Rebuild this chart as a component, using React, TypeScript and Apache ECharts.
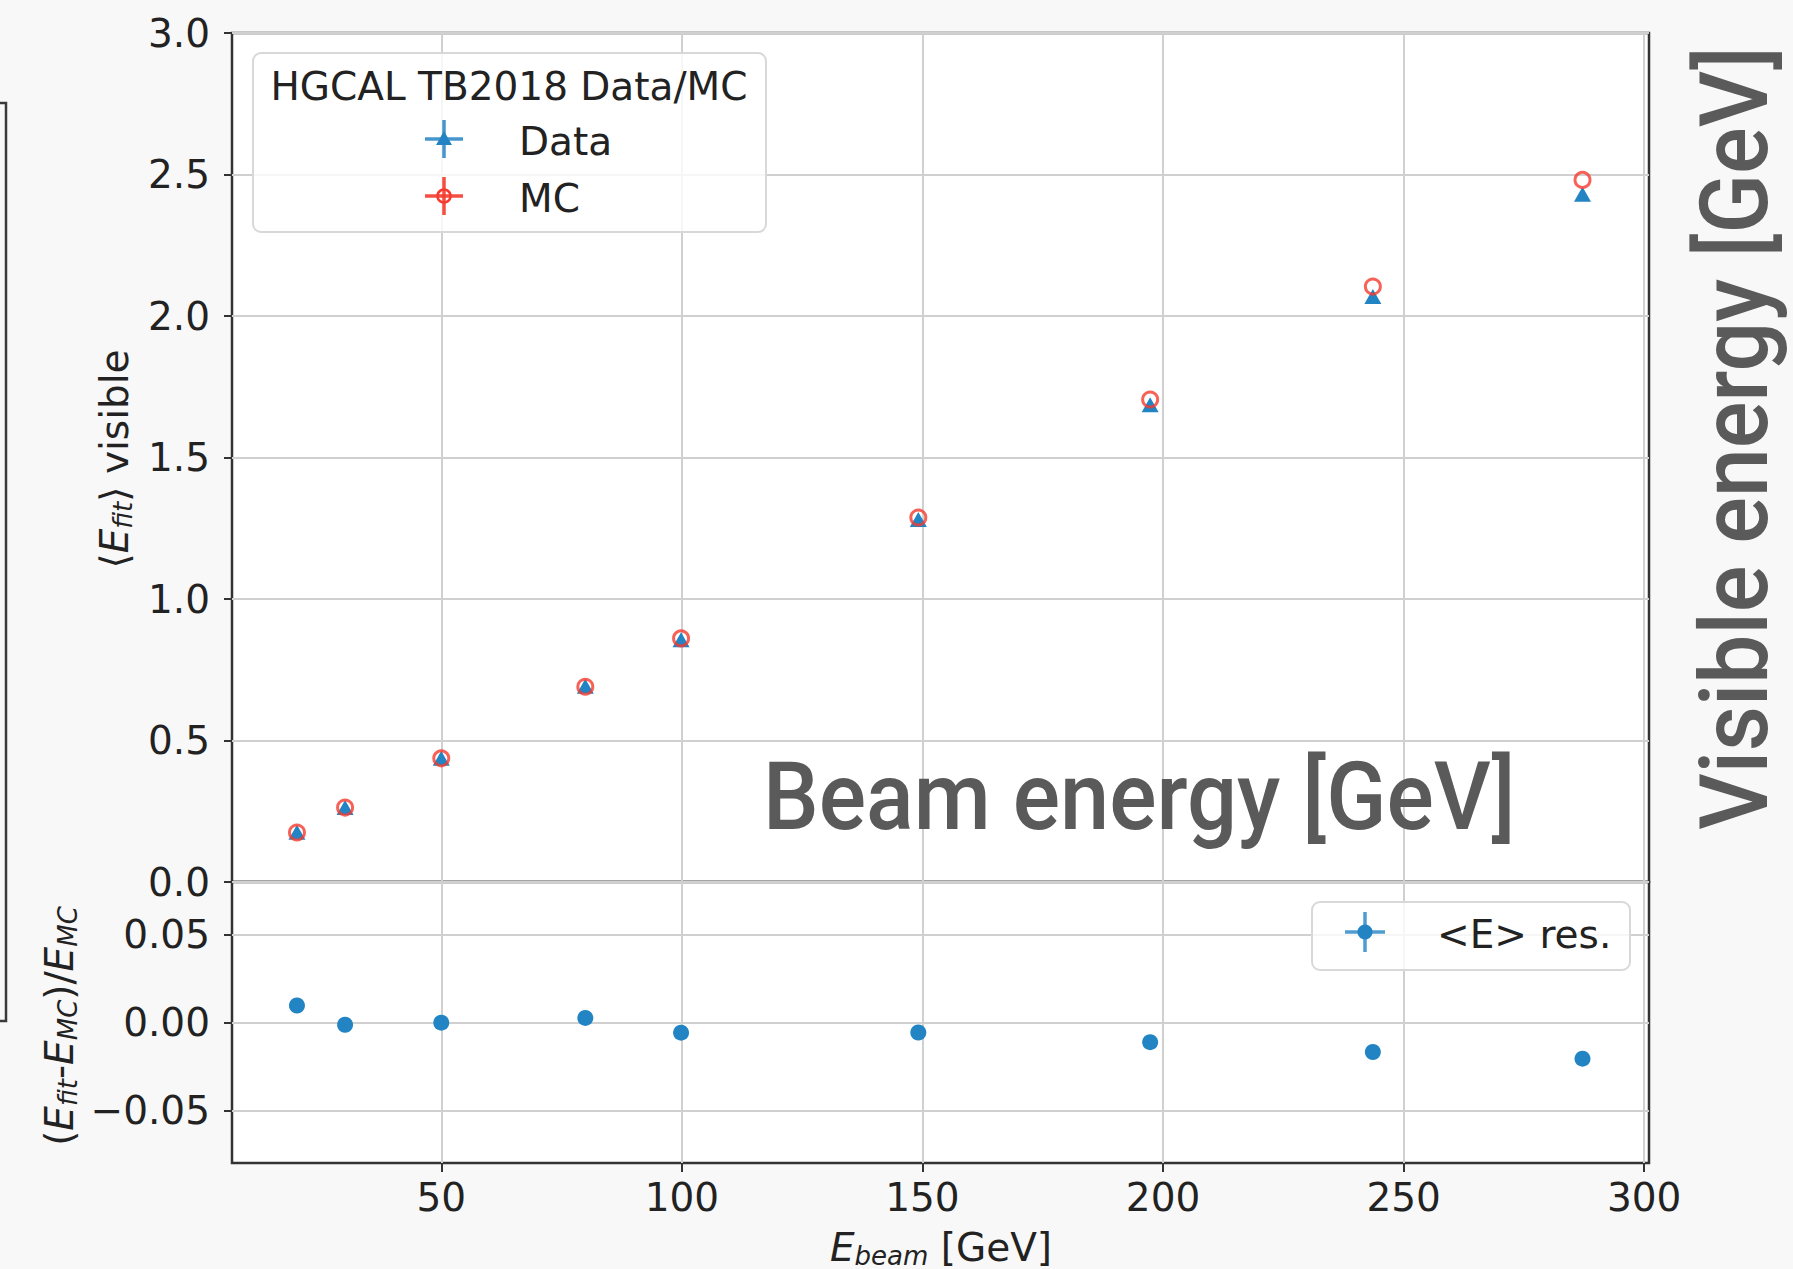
import React, { useEffect, useRef } from 'react';
import * as echarts from 'echarts';

// ---- data ----
const beamEnergy = [20, 30, 49.99, 79.93, 99.83, 149.14, 197.32, 243.61, 287.18];
const dataVisible = [0.176, 0.263, 0.437, 0.692, 0.856, 1.281, 1.686, 2.069, 2.43];
const mcVisible = [0.175, 0.263, 0.437, 0.69, 0.861, 1.288, 1.705, 2.104, 2.481];
const residual = [0.0097, -0.0013, -0.0001, 0.0026, -0.0058, -0.0057, -0.0112, -0.0168, -0.0206];
const xTicks = [50, 100, 150, 200, 250, 300];
const yBottomTicks = [-0.05, 0, 0.05];

const FONT = "'DejaVu Sans', sans-serif";
const BLUE = '#2384c4';
const RED = '#f53b2e';
const GRID = '#d0d0d0';
const SPINE = '#333333';
const TXT = '#222222';

const richMath = (size: number, sub: number) => {
  const n = { fontSize: size, fontFamily: FONT, fill: TXT, verticalAlign: 'bottom', padding: [0, 0, 2, 0] };
  return {
    n,
    i: { ...n, fontStyle: 'italic' },
    s: { fontSize: sub, fontFamily: FONT, fontStyle: 'italic', fill: TXT, verticalAlign: 'bottom' },
  };
};

const labelStyle = { fontFamily: FONT, fontSize: 39, color: TXT };

function buildOption() {
  const pairs = (ys: number[]) => beamEnergy.map((x, i) => [x, ys[i]]);
  const fmtSigned = (v: number) => (v < 0 ? '\u2212' + Math.abs(v).toFixed(2) : v.toFixed(2));

  const graphic: any[] = [
    // partial frame at the far left
    { type: 'rect', shape: { x: -20, y: 103, width: 26, height: 918 }, style: { fill: 'none', stroke: '#3a3a3a', lineWidth: 2.5 } },
    // y label top
    {
      type: 'text', x: 115, y: 459, rotation: Math.PI / 2,
      style: { text: '{n|\u27e8}{i|E}{s|fit}{n|\u27e9 visible}', align: 'center', verticalAlign: 'middle', rich: richMath(39, 26) },
    },
    // y label bottom
    {
      type: 'text', x: 60, y: 1026, rotation: Math.PI / 2,
      style: { text: '{n|(}{i|E}{s|fit}{n|-}{i|E}{s|MC}{n|)/}{i|E}{s|MC}', align: 'center', verticalAlign: 'middle', rich: richMath(39, 26) },
    },
    // x label
    {
      type: 'text', x: 941, y: 1248,
      style: { text: '{i|E}{s|beam}{n| [GeV]}', align: 'center', verticalAlign: 'middle', rich: richMath(39, 26) },
    },
    // legend 1
    { type: 'rect', z: 50, shape: { x: 253, y: 53, width: 513, height: 179, r: 8 }, style: { fill: 'rgba(255,255,255,0.8)', stroke: '#d8d8d8', lineWidth: 2 } },
    { type: 'text', z: 51, x: 509, y: 86, style: { text: 'HGCAL TB2018 Data/MC', fontFamily: FONT, fontSize: 39, fill: TXT, align: 'center', verticalAlign: 'middle' } },
    { type: 'line', z: 51, shape: { x1: 425, y1: 139, x2: 463, y2: 139 }, style: { stroke: BLUE, lineWidth: 3.5, opacity: 0.85 } },
    { type: 'line', z: 51, shape: { x1: 444, y1: 120, x2: 444, y2: 158 }, style: { stroke: BLUE, lineWidth: 3.5, opacity: 0.85 } },
    { type: 'polygon', z: 52, shape: { points: [[444, 131], [436, 145], [452, 145]] }, style: { fill: BLUE } },
    { type: 'text', z: 51, x: 519, y: 141, style: { text: 'Data', fontFamily: FONT, fontSize: 39, fill: TXT, align: 'left', verticalAlign: 'middle' } },
    { type: 'line', z: 51, shape: { x1: 425, y1: 196, x2: 463, y2: 196 }, style: { stroke: RED, lineWidth: 3.5, opacity: 0.9 } },
    { type: 'line', z: 51, shape: { x1: 444, y1: 177, x2: 444, y2: 215 }, style: { stroke: RED, lineWidth: 3.5, opacity: 0.9 } },
    { type: 'circle', z: 52, shape: { cx: 444, cy: 196, r: 6.5 }, style: { fill: 'none', stroke: RED, lineWidth: 2.5 } },
    { type: 'text', z: 51, x: 519, y: 198, style: { text: 'MC', fontFamily: FONT, fontSize: 39, fill: TXT, align: 'left', verticalAlign: 'middle' } },
    // legend 2
    { type: 'rect', z: 50, shape: { x: 1312, y: 902, width: 318, height: 68, r: 8 }, style: { fill: 'rgba(255,255,255,0.8)', stroke: '#d8d8d8', lineWidth: 2 } },
    { type: 'line', z: 51, shape: { x1: 1345, y1: 932, x2: 1385, y2: 932 }, style: { stroke: BLUE, lineWidth: 3.5, opacity: 0.8 } },
    { type: 'line', z: 51, shape: { x1: 1365, y1: 912, x2: 1365, y2: 952 }, style: { stroke: BLUE, lineWidth: 3.5, opacity: 0.8 } },
    { type: 'circle', z: 52, shape: { cx: 1365, cy: 932, r: 7.5 }, style: { fill: BLUE } },
    { type: 'text', z: 51, x: 1437, y: 934, style: { text: '<E> res.', fontFamily: FONT, fontSize: 39, fill: TXT, align: 'left', verticalAlign: 'middle' } },
    // overlay annotations
    {
      type: 'text', z: 100, x: 763, y: 797, scaleX: 0.94,
      style: { text: 'Beam energy [GeV]', fontFamily: 'Roboto', fontWeight: 500, fontSize: 94, fill: '#5a5a5a', align: 'left', verticalAlign: 'middle' },
    },
    {
      type: 'text', z: 100, x: 1735, y: 438, rotation: Math.PI / 2, scaleX: 0.93,
      style: { text: 'Visible energy [GeV]', fontFamily: 'Roboto', fontWeight: 500, fontSize: 94, fill: '#5a5a5a', align: 'center', verticalAlign: 'middle' },
    },
  ];

  return {
    animation: false,
    backgroundColor: '#f8f8f8',
    grid: [
      { left: 232, top: 33, width: 1417, height: 849, show: true, backgroundColor: '#ffffff', borderColor: SPINE, borderWidth: 2.5 },
      { left: 232, top: 882, width: 1417, height: 281, show: true, backgroundColor: '#ffffff', borderColor: SPINE, borderWidth: 2.5 },
    ],
    xAxis: [
      {
        type: 'value', gridIndex: 0, min: 6.5, max: 301, splitNumber: 5, position: 'bottom',
        axisLine: { show: false, onZero: false },
        axisTick: { show: false, customValues: xTicks },
        axisLabel: { show: false, customValues: xTicks },
        splitLine: { show: true, lineStyle: { color: GRID, width: 2 } },
      },
      {
        type: 'value', gridIndex: 1, min: 6.5, max: 301, splitNumber: 5, position: 'bottom',
        axisLine: { show: false, onZero: false },
        axisTick: { show: true, inside: false, length: 9, customValues: xTicks, lineStyle: { color: SPINE, width: 2 } },
        axisLabel: { ...labelStyle, margin: 15, customValues: xTicks, formatter: (v: number) => String(v) },
        splitLine: { show: true, lineStyle: { color: GRID, width: 2 } },
      },
    ],
    yAxis: [
      {
        type: 'value', gridIndex: 0, min: 0, max: 3, interval: 0.5, position: 'left',
        axisLine: { show: false, onZero: false },
        axisTick: { show: true, inside: false, length: 8, lineStyle: { color: SPINE, width: 2 } },
        axisLabel: { ...labelStyle, margin: 22, formatter: (v: number) => v.toFixed(1) },
        splitLine: { show: true, lineStyle: { color: GRID, width: 2 } },
      },
      {
        type: 'value', gridIndex: 1, min: -0.08, max: 0.08, splitNumber: 3, position: 'left',
        axisLine: { show: false, onZero: false },
        axisTick: { show: true, inside: false, length: 8, customValues: yBottomTicks, lineStyle: { color: SPINE, width: 2 } },
        axisLabel: { ...labelStyle, margin: 22, customValues: yBottomTicks, formatter: fmtSigned },
        splitLine: { show: true, lineStyle: { color: GRID, width: 2 } },
      },
    ],
    series: [
      {
        name: 'Data', type: 'scatter', xAxisIndex: 0, yAxisIndex: 0, z: 3,
        symbol: 'triangle', symbolSize: [17, 15],
        itemStyle: { color: BLUE, opacity: 1 },
        data: pairs(dataVisible),
      },
      {
        name: 'MC', type: 'scatter', xAxisIndex: 0, yAxisIndex: 0, z: 4,
        symbol: 'circle', symbolSize: 15,
        itemStyle: { color: 'rgba(0,0,0,0)', borderColor: RED, borderWidth: 3 },
        data: pairs(mcVisible),
      },
      {
        name: '<E> res.', type: 'scatter', xAxisIndex: 1, yAxisIndex: 1, z: 3,
        symbol: 'circle', symbolSize: 16,
        itemStyle: { color: BLUE, opacity: 1 },
        data: pairs(residual),
      },
    ],
    graphic,
  };
}

export default function App() {
  const ref = useRef<HTMLDivElement>(null);
  useEffect(() => {
    document.body.style.margin = '0';
    const chart = echarts.init(ref.current!, null, { renderer: 'svg' });
    chart.setOption(buildOption() as any);
    return () => chart.dispose();
  }, []);
  return <div ref={ref} style={{ position: 'absolute', left: 0, top: 0, width: 1793, height: 1269 }} />;
}
